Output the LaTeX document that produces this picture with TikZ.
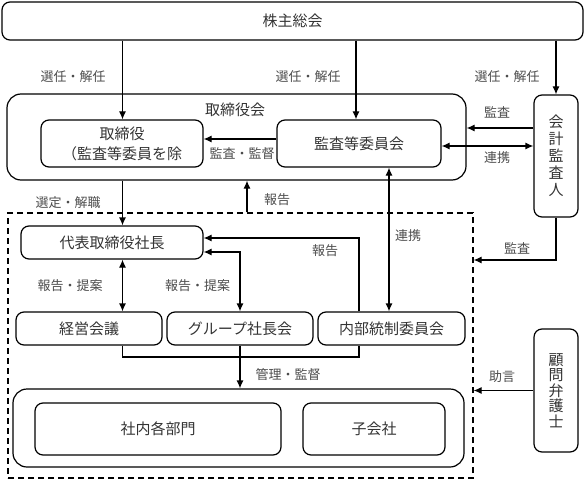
\documentclass[tikz,border=0pt]{standalone}
\usepackage{fontspec}
\newfontfamily\jpfont{Noto Sans CJK JP}
\usetikzlibrary{arrows.meta}
\begin{document}
\begin{tikzpicture}[x=1pt,y=-1pt,
        box/.style={draw,line width=1.2pt,rounded corners=8pt,align=center,inner sep=0pt,
            text=black!80,font=\jpfont\fontsize{15}{17}\selectfont},
        group/.style={draw,line width=1.2pt,rounded corners=14pt,inner sep=0pt},
        lbl/.style={inner sep=0pt,text=black!70,font=\jpfont\fontsize{13}{15}\selectfont},
        arr/.style={line width=1.2pt,-{Latex[length=8pt,width=7pt]}},
        darr/.style={line width=1.2pt,{Latex[length=8pt,width=7pt]}-{Latex[length=8pt,width=7pt]}},
        ln/.style={line width=1.2pt}]
        \useasboundingbox(0,0)rectangle(585,481);
        \node[box,minimum width=581pt,minimum height=38pt](1)at(292.5,21){株主総会};
        \node[group,minimum width=459pt,minimum height=86pt](2)at(236.5,137){};
        \node[box,minimum width=162pt,minimum height=47pt](3)at(122,143.5){取締役\\[3pt]（監査等委員を除};
        \node[box,minimum width=164pt,minimum height=47pt](4)at(359,143.5){監査等委員会};
        \node[box,minimum width=44pt,minimum height=122pt](5)at(556,156){会\\計\\監\\査\\人};
        \node[draw,line width=1.2pt,dash pattern=on 6pt off 4pt,minimum width=465pt,minimum height=265pt,inner sep=0pt](6)at(240.5,345.5){};
        \node[box,minimum width=182pt,minimum height=33pt](7)at(112,242.5){代表取締役社長};
        \node[box,minimum width=146pt,minimum height=33pt](8)at(89,328.5){経営会議};
        \node[box,minimum width=146pt,minimum height=33pt](9)at(240,328.5){グループ社長会};
        \node[box,minimum width=147pt,minimum height=33pt](10)at(391.5,328.5){内部統制委員会};
        \node[group,minimum width=451pt,minimum height=78pt](11)at(238.5,428){};
        \node[box,minimum width=246pt,minimum height=52pt](12)at(158,429){社内各部門};
        \node[box,minimum width=142pt,minimum height=52pt](13)at(374,429){子会社};
        \node[box,minimum width=44pt,minimum height=123pt,font=\jpfont\fontsize{15}{15.5}\selectfont](14)at(556,390.5){顧\\問\\弁\\護\\士};
        \node[box,draw=none,inner sep=0pt](15)at(235,110){取締役会};
        % labels
        \node[lbl](l1)at(73,77){選任・解任};
        \node[lbl](l2)at(308,77){選任・解任};
        \node[lbl](l3)at(507,77){選任・解任};
        \node[lbl](l4)at(242,154){監査・監督};
        \node[lbl](l5)at(497,112){監査};
        \node[lbl](l6)at(497,158){連携};
        \node[lbl](l7)at(68,203){選定・解職};
        \node[lbl](l8)at(277,200){報告};
        \node[lbl](l9)at(408,236){連携};
        \node[lbl](l10)at(517,248){監査};
        \node[lbl](l11)at(325,251){報告};
        \node[lbl](l12)at(70,286){報告・提案};
        \node[lbl](l13)at(197.5,286){報告・提案};
        \node[lbl](l14)at(288,375){管理・監督};
        \node[lbl](l15)at(502,377){助言};
        % helper coordinates
        \coordinate(a)at(122.5,0);
        \coordinate(b)at(356,0);
        \coordinate(c)at(0,139);
        \coordinate(d)at(0,128);
        \coordinate(e)at(0,146);
        \coordinate(f)at(247,0);
        \coordinate(g)at(389,0);
        \coordinate(h)at(0,260);
        \coordinate(i)at(359,0);
        \coordinate(j)at(0,238);
        \coordinate(k)at(0,252);
        \coordinate(m)at(0,357);
        % connectors
        \draw[arr](1.south-|a)--(3.north-|a);
        \draw[arr](1.south-|b)--(4.north-|b);
        \draw[arr](1.south-|5.north)--(5.north);
        \draw[arr](4.west|-c)--(3.east|-c);
        \draw[arr](5.west|-d)--(2.east|-d);
        \draw[darr](4.east|-e)--(5.west|-e);
        \draw[arr](2.south-|a)--(7.north-|a);
        \draw[arr](6.north-|f)--(2.south-|f);
        \draw[darr](4.south-|g)--(10.north-|g);
        \draw[arr](5.south)|-(6.east|-h);
        \draw[arr](14.west)--(14.west-|6.east);
        \draw[arr](10.north-|i)|-(7.east|-j);
        \draw[darr](7.east|-k)-|(9.north);
        \draw[darr](7.south-|a)--(8.north-|a);
        \draw[ln](8.south-|a)|-(m-|i)--(10.south-|i);
        \draw[arr](9.south)--(9.south|-11.north);
    \end{tikzpicture}
\end{document}
